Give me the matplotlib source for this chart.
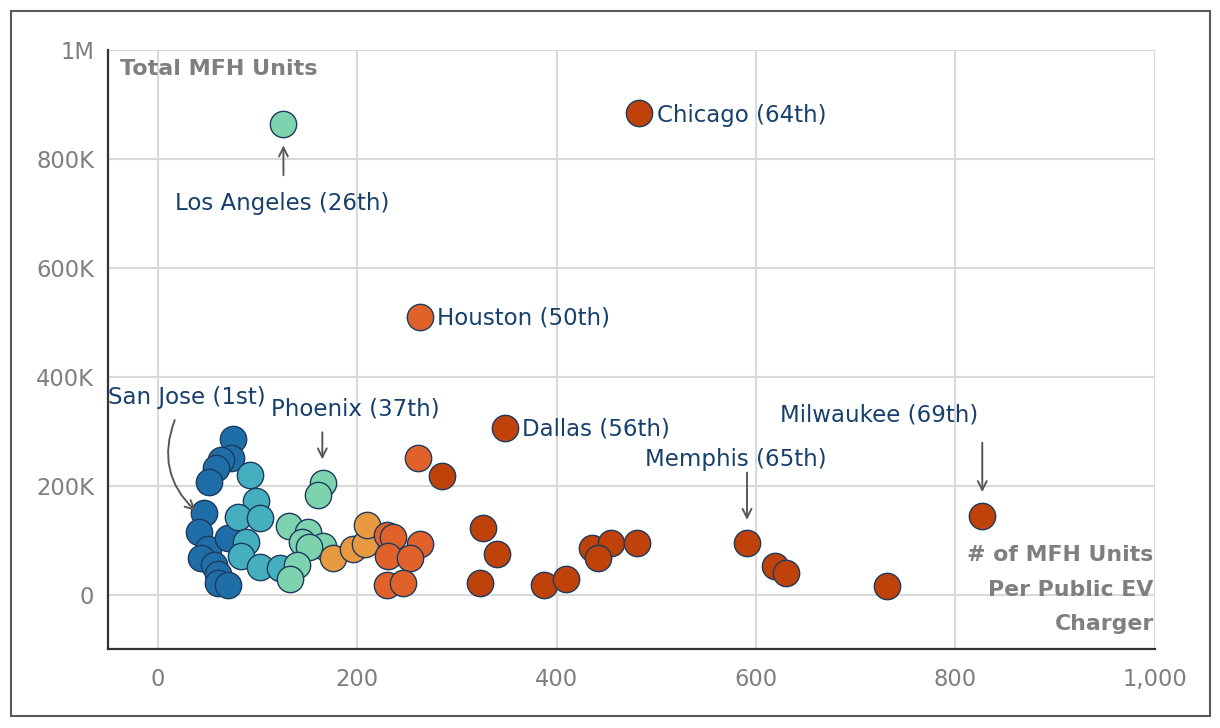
import matplotlib.pyplot as plt
from matplotlib.patches import Rectangle, FancyArrowPatch
from matplotlib.ticker import FuncFormatter

plt.rcParams['font.family'] = ['DejaVu Sans']

# MFH units per public EV charger (x) vs total MFH units (y), grouped by colour band
blue_x = [75, 73, 63, 58, 51, 46, 41, 50, 43, 70, 56, 60, 60, 70]
blue_y = [286000, 251000, 248000, 233000, 206000, 149000, 114000, 83000, 68000, 103000, 55000, 37000, 22000, 17000]

teal_x = [92, 98, 80, 103, 88, 83, 103, 123]
teal_y = [220000, 171000, 143000, 141000, 97000, 70000, 51000, 48000]

green_x = [126, 166, 161, 132, 151, 145, 166, 152, 140, 133]
green_y = [864000, 205000, 183000, 125000, 114000, 97000, 90000, 88000, 55000, 28000]

lorange_x = [176, 196, 208, 210]
lorange_y = [68000, 83000, 92000, 128000]

orange_x = [263, 261, 230, 236, 263, 231, 253, 230, 246]
orange_y = [510000, 251000, 110000, 106000, 92000, 70000, 68000, 18000, 22000]

red_x = [483, 348, 285, 326, 340, 323, 387, 409, 436, 455, 442, 481, 591, 619, 630, 731, 827]
red_y = [884000, 306000, 217000, 123000, 75000, 22000, 17000, 29000, 86000, 94000, 68000, 94000,
         95000, 53000, 40000, 15000, 145000]

groups = [
    (blue_x, blue_y, '#1f6ea8'),
    (teal_x, teal_y, '#45afbf'),
    (green_x, green_y, '#7dd3ae'),
    (lorange_x, lorange_y, '#e99a40'),
    (orange_x, orange_y, '#e0622a'),
    (red_x, red_y, '#bf420a'),
]

x_ticks = [0, 200, 400, 600, 800, 1000]
y_ticks = [0, 200000, 400000, 600000, 800000, 1000000]
y_labels = ['0', '200K', '400K', '600K', '800K', '1M']

navy = '#17406d'
gray = '#7f7f7f'

fig = plt.figure(figsize=(12.2, 7.28), dpi=100)
ax = fig.add_axes([0.0885, 0.1085, 0.858, 0.8228])

for xs, ys, c in groups:
    ax.scatter(xs, ys, s=360, color=c, edgecolor='#1c3b5e', linewidth=1, zorder=3)

ax.set_xlim(-50, 1000)
ax.set_ylim(-100000, 1000000)
ax.set_xticks(x_ticks)
ax.set_yticks(y_ticks)
ax.set_yticklabels(y_labels)
ax.xaxis.set_major_formatter(FuncFormatter(lambda v, p: f'{int(v):,}'))
ax.tick_params(length=0, labelsize=16.3, labelcolor=gray, pad=10)
ax.tick_params(axis='x', pad=14)
ax.grid(True, color='#d9d9d9', linewidth=1.5, zorder=0)
ax.set_axisbelow(True)
for s in ['top', 'right']:
    ax.spines[s].set_visible(False)
for s in ['left', 'bottom']:
    ax.spines[s].set_color('#333333')
    ax.spines[s].set_linewidth(1.6)

ax.text(-38, 965000, 'Total MFH Units', fontsize=16, fontweight='bold', color=gray, va='center')
ax.text(999, 9000, '# of MFH Units\nPer Public EV\nCharger', fontsize=15.8, fontweight='bold',
        color=gray, ha='right', va='center', linespacing=1.9, zorder=4)

lab = dict(fontsize=16.5, color=navy, zorder=5)
ax.text(501, 880000, 'Chicago (64th)', va='center', ha='left', **lab)
ax.text(280, 507000, 'Houston (50th)', va='center', ha='left', **lab)
ax.text(365, 304000, 'Dallas (56th)', va='center', ha='left', **lab)
ax.text(125, 719000, 'Los Angeles (26th)', va='center', ha='center', **lab)
ax.text(-50, 361000, 'San Jose (1st)', va='center', ha='left', **lab)
ax.text(198, 341000, 'Phoenix (37th)', va='center', ha='center', **lab)
ax.text(580, 248000, 'Memphis (65th)', va='center', ha='center', **lab)
ax.text(724, 330000, 'Milwaukee (69th)', va='center', ha='center', **lab)

arr = dict(arrowstyle='->', mutation_scale=16, color='#595959', linewidth=1.4, zorder=4)
ax.add_patch(FancyArrowPatch((126, 765000), (126, 830000), **arr))
ax.add_patch(FancyArrowPatch((165, 303000), (165, 243000), **arr))
ax.add_patch(FancyArrowPatch((591, 229000), (591, 132000), **arr))
ax.add_patch(FancyArrowPatch((827, 284000), (827, 183000), **arr))
ax.add_patch(FancyArrowPatch((18, 325000), (40, 150000), connectionstyle='arc3,rad=0.35', **arr))

fig.patches.append(Rectangle((0.009, 0.0165), 0.983, 0.9685, transform=fig.transFigure,
                             fill=False, edgecolor='#595959', linewidth=1.5))

fig.savefig('out.png', dpi=100)
